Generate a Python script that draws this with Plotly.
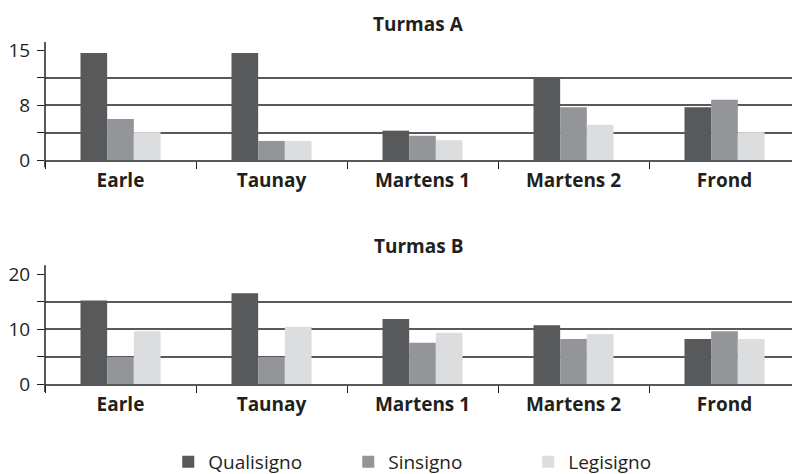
import plotly.graph_objects as go

categories = ["Earle", "Taunay", "Martens 1", "Martens 2", "Frond"]
series_names = ["Qualisigno", "Sinsigno", "Legisigno"]
colors = ["#58595b", "#939598", "#dcddde"]

turmas_a_qualisigno = [14.6, 14.6, 4.0, 11.2, 7.2]
turmas_a_sinsigno = [5.6, 2.6, 3.3, 7.2, 8.2]
turmas_a_legisigno = [3.8, 2.6, 2.7, 4.8, 3.8]

turmas_b_qualisigno = [15.2, 16.5, 11.8, 10.7, 8.2]
turmas_b_sinsigno = [4.9, 4.9, 7.5, 8.2, 9.6]
turmas_b_legisigno = [9.6, 10.4, 9.3, 9.1, 8.2]

a_tickvals = [0, 3.75, 7.5, 11.25, 15]
a_ticktext = ["0", "", "8", "", "15"]
b_tickvals = [0, 5, 10, 15, 20]
b_ticktext = ["0", "", "10", "", "20"]

titles = ["Turmas A", "Turmas B"]

FONT = "Open Sans"
TXT = "#231f20"
GRID = "#58595b"

fig = go.Figure()
data_a = [turmas_a_qualisigno, turmas_a_sinsigno, turmas_a_legisigno]
data_b = [turmas_b_qualisigno, turmas_b_sinsigno, turmas_b_legisigno]
for i, name in enumerate(series_names):
    fig.add_trace(go.Bar(x=categories, y=data_a[i], name=name, marker=dict(color=colors[i], line=dict(width=0)),
                         xaxis="x", yaxis="y", showlegend=True, legendgroup=name, hoverinfo="skip"))
    fig.add_trace(go.Bar(x=categories, y=data_b[i], name=name, marker=dict(color=colors[i], line=dict(width=0)),
                         xaxis="x2", yaxis="y2", showlegend=False, legendgroup=name, hoverinfo="skip"))

H = 474
def dom(top_px, bot_px):
    return [1 - bot_px / H, 1 - top_px / H]

xcommon = dict(
    type="category", range=[-0.5, 4.447], showgrid=False, showline=True, linecolor=GRID, linewidth=2,
    ticks="outside", tickson="boundaries", ticklen=7, tickcolor=TXT, tickwidth=1, automargin=False,
    tickfont=dict(family=FONT, size=19, color=TXT, weight="bold"), domain=[0, 1], fixedrange=True,
    ticklabelstandoff=2,
)
ycommon = dict(
    showgrid=True, gridcolor=GRID, gridwidth=2, showline=False,
    ticks="outside", ticklen=7, tickcolor=TXT, tickwidth=1, zeroline=False, automargin=False,
    tickfont=dict(family=FONT, size=19, color=TXT), ticklabelstandoff=3, fixedrange=True,
)

fig.update_layout(
    width=792, height=474,
    margin=dict(l=45, r=0, t=0, b=0, autoexpand=False),
    paper_bgcolor="white", plot_bgcolor="white",
    barmode="group", bargap=0.47, bargroupgap=0,
    xaxis=dict(**xcommon, anchor="y"),
    xaxis2=dict(**xcommon, anchor="y2"),
    yaxis=dict(**ycommon, domain=dom(50, 160), range=[0, 15], tickvals=a_tickvals, ticktext=a_ticktext, anchor="x"),
    yaxis2=dict(**ycommon, domain=dom(274, 384), range=[0, 20], tickvals=b_tickvals, ticktext=b_ticktext, anchor="x2"),
    legend=dict(orientation="h", x=0.165, xanchor="left", y=1 - 462 / H, yanchor="middle",
                font=dict(family=FONT, size=19, color=TXT), entrywidth=135, entrywidthmode="pixels",
                traceorder="normal", itemsizing="constant", itemclick=False, itemdoubleclick=False),
    showlegend=True,
    hovermode=False,
    annotations=[
        dict(text=titles[0], x=0.5, xref="paper", y=1 - 24 / H, yref="paper", yanchor="middle", showarrow=False,
             font=dict(family=FONT, size=19, color=TXT, weight="bold")),
        dict(text=titles[1], x=0.5, xref="paper", y=1 - 246 / H, yref="paper", yanchor="middle", showarrow=False,
             font=dict(family=FONT, size=19, color=TXT, weight="bold")),
    ],
    shapes=[
        dict(type="line", xref="x domain", x0=0, x1=0, yref="y domain", y0=-0.065, y1=1.073,
             line=dict(color=TXT, width=1.5)),
        dict(type="line", xref="x2 domain", x0=0, x1=0, yref="y2 domain", y0=-0.073, y1=1.08,
             line=dict(color=TXT, width=1.5)),
    ],
)

fig.write_html("out.html", config={"displayModeBar": False, "staticPlot": True},
               post_script="document.body.style.margin='0';document.body.style.overflow='hidden';")
